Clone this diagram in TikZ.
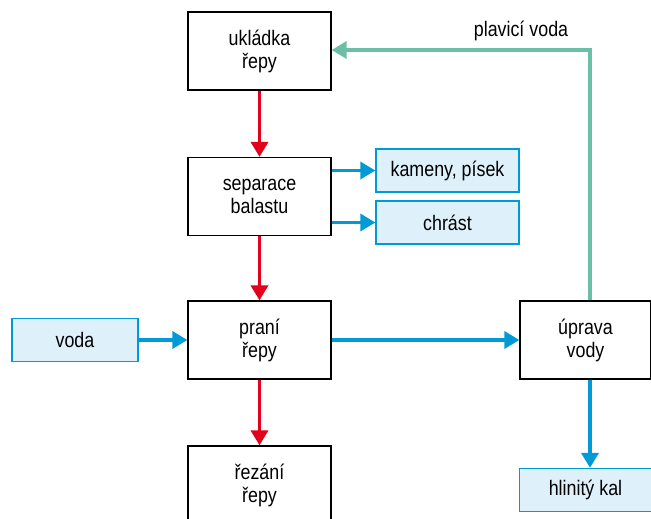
\documentclass[tikz,border=0pt]{standalone}
\usepackage{fontspec}
\setmainfont[FakeStretch=0.85]{Liberation Sans}
\usetikzlibrary{arrows.meta}
\definecolor{redarrow}{RGB}{226,0,26}
\definecolor{bluearrow}{RGB}{0,154,214}
\definecolor{tealarrow}{RGB}{108,190,166}
\definecolor{lightfill}{RGB}{222,241,251}
\tikzset{
  labelfont/.style={font=\fontsize{21}{23}\selectfont},
  stepbox/.style={draw, line width=1.3pt, fill=white, minimum width=143pt, minimum height=78pt, align=center, labelfont},
  outbox/.style={draw=bluearrow, line width=1.3pt, fill=lightfill, minimum width=143pt, minimum height=43pt, align=center, labelfont},
  redflow/.style={draw=redarrow, line width=3.5pt, -{Triangle[length=15pt,width=17pt]}},
  blueflow/.style={draw=bluearrow, line width=3.5pt, -{Triangle[length=15pt,width=17pt]}},
  tealflow/.style={draw=tealarrow, line width=3.5pt, -{Triangle[length=15pt,width=17pt]}}
}
\begin{document}
\begin{tikzpicture}[x=1pt, y=-1pt]
        \useasboundingbox (0,0) rectangle (651,519);
        \node[stepbox] (ulozeni) at (259.5,51) {ukládka\\řepy};
        \node[stepbox] (separace) at (259.5,196.5) {separace\\balastu};
        \node[stepbox] (prani) at (259.5,340) {praní\\řepy};
        \node[stepbox] (rezani) at (259.5,485) {řezání\\řepy};
        \node[stepbox, minimum width=131pt] (uprava) at (585.5,340) {úprava\\vody};
        \node[outbox] (kameny) at (447.5,170.5) {kameny, písek};
        \node[outbox] (chrast) at (447.5,222.5) {chrást};
        \node[outbox, minimum width=126pt] (voda) at (75,340) {voda};
        \node[outbox, minimum width=132pt] (kal) at (585.5,490) {hlinitý kal};
        \coordinate (roh) at (590,50);
        \node[labelfont] (plavici) at (521,31) {plavicí voda};
        
        \draw[redflow] (ulozeni) -- (separace);
        \draw[redflow] (separace) -- (prani);
        \draw[redflow] (prani) -- (rezani.north);
        \draw[blueflow] (separace.east |- kameny) -- (kameny);
        \draw[blueflow] (separace.east |- chrast) -- (chrast);
        \draw[blueflow] (voda) -- (prani);
        \draw[blueflow] (prani) -- (uprava);
        \draw[blueflow] (uprava.south -| roh) -- (kal.north -| roh);
        \draw[tealflow] (uprava.north -| roh) -- (roh) -- (ulozeni.east |- roh);
    \end{tikzpicture}
\end{document}
